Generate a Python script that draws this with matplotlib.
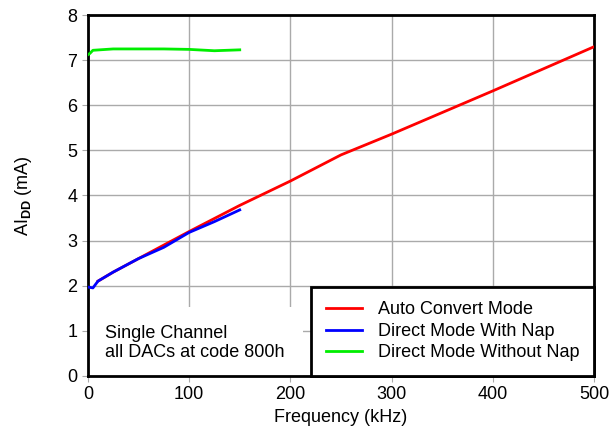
import matplotlib
matplotlib.use("Agg")
import matplotlib.pyplot as plt
from matplotlib.patches import Rectangle

plt.rcParams["font.family"] = ["Liberation Sans", "DejaVu Sans"]
plt.rcParams["mathtext.fontset"] = "custom"
plt.rcParams["mathtext.rm"] = "Liberation Sans"
plt.rcParams["mathtext.bf"] = "Liberation Sans:bold"

# Auto Convert Mode
auto_freq = [10, 25, 50, 75, 100, 150, 200, 250, 300, 400, 500]
auto_idd = [2.1, 2.3, 2.6, 2.9, 3.2, 3.78, 4.32, 4.9, 5.36, 6.32, 7.3]

# Direct Mode With Nap
nap_freq = [0, 5, 10, 25, 50, 75, 100, 125, 150]
nap_idd = [1.97, 1.95, 2.1, 2.3, 2.6, 2.85, 3.18, 3.42, 3.68]

# Direct Mode Without Nap
nonap_freq = [0, 2, 5, 25, 50, 75, 100, 125, 150]
nonap_idd = [7.12, 7.15, 7.22, 7.25, 7.25, 7.25, 7.24, 7.21, 7.23]

fig = plt.figure(figsize=(6.1, 4.32), dpi=100)
ax = fig.add_axes([0.144, 0.130, 0.830, 0.835])

ax.plot(auto_freq, auto_idd, color="#ff0000", linewidth=2, label="Auto Convert Mode", zorder=3)
ax.plot(nap_freq, nap_idd, color="#0000ff", linewidth=2, label="Direct Mode With Nap", zorder=3)
ax.plot(nonap_freq, nonap_idd, color="#00ee00", linewidth=2, label="Direct Mode Without Nap", zorder=3)

ax.set_xlim(0, 500)
ax.set_ylim(0, 8)
ax.set_xticks(range(0, 501, 100))
ax.set_yticks(range(0, 9))
ax.grid(True, color="#aaaaaa", linewidth=1)
ax.set_axisbelow(True)
for s in ax.spines.values():
    s.set_linewidth(2)
ax.tick_params(labelsize=13, length=4, color="#aaaaaa")

ax.set_xlabel("Frequency (kHz)", fontsize=13)
ax.set_ylabel(r"AI$_{\mathbf{DD}}$ (mA)", fontsize=13, labelpad=24)

# white area behind the note hides the grid
ax.add_patch(Rectangle((0, 0), 0.425, 0.19, transform=ax.transAxes,
                       facecolor="white", edgecolor="none", zorder=1))

leg = ax.legend(loc="lower right", fontsize=13, fancybox=False, framealpha=1,
                edgecolor="black", borderaxespad=0, handlelength=2.0,
                handletextpad=0.9, borderpad=0.8, labelspacing=0.25)
leg.get_frame().set_linewidth(2)

ax.text(0.034, 0.04, "Single Channel\nall DACs at code 800h", transform=ax.transAxes,
        fontsize=13, ha="left", va="bottom", linespacing=1.15, zorder=4)

fig.savefig("out.png", dpi=100)
